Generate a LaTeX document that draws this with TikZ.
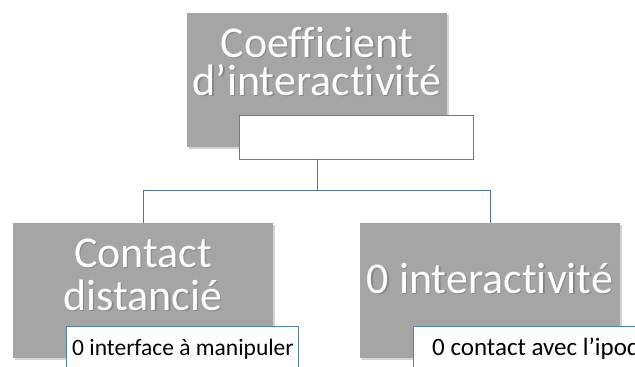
\documentclass[tikz,border=0pt]{standalone}
\usepackage{fontspec}
\setmainfont[Ligatures={NoCommon}]{Carlito}
\usetikzlibrary{shadows}
\definecolor{graybox}{HTML}{A5A5A5}
\definecolor{bluebox}{HTML}{4F81BD}
\definecolor{blueline}{HTML}{4A74AD}
\tikzset{
  titlebox/.style={fill=graybox, draw=none, drop shadow={shadow xshift=1.5pt, shadow yshift=-1.5pt, opacity=0.35}},
  subbox/.style={fill=white, draw=bluebox, line width=0.8pt},
  bigtext/.style={text=white, align=center, anchor=base, inner sep=0pt},
  bigshadow/.style={bigtext, text=black, opacity=0.18},
  smalltext/.style={text=black, font=\fontsize{23.5}{26}\selectfont, anchor=base west, inner sep=0pt},
  conn/.style={draw=blueline, line width=0.9pt}
}
\begin{document}
\begin{tikzpicture}[x=1pt,y=-1pt]
\useasboundingbox (0,0) rectangle (635,367);
\clip (0,0) rectangle (635,367);
% top
\path[titlebox] (187,13) rectangle (447,147);
\node[bigshadow, font=\fontsize{44}{38}\selectfont] at (318.3,96.3) {Coefficient\\d’interactivité};
\node[bigtext, font=\fontsize{44}{38}\selectfont] (top) at (317,95) {Coefficient\\d’interactivité};
\path[subbox] (239,115) rectangle (473,159);
\coordinate (topb) at (317,159);
% left
\path[titlebox] (13,223) rectangle (273,358);
\node[bigshadow, font=\fontsize{44}{43}\selectfont] at (144.3,311.3) {Contact\\distancié};
\node[bigtext, font=\fontsize{44}{43}\selectfont] (left) at (143,310) {Contact\\distancié};
\path[subbox] (66,326) rectangle (298,375);
\node[smalltext] (lt) at (72,355) {0 interface à manipuler};
% right
\path[titlebox] (360,223) rectangle (620,358);
\node[bigshadow, font=\fontsize{44}{44}\selectfont] at (491.3,294.3) {0 interactivité};
\node[bigtext, font=\fontsize{44}{44}\selectfont] (right) at (490,293) {0 interactivité};
\path[subbox] (413,326) rectangle (660,375);
\node[smalltext, font=\fontsize{25}{27}\selectfont] (rt) at (432,355) {0 contact avec l’ipod};
% connectors
\coordinate (lt0) at (143,223);
\coordinate (rt0) at (490,223);
\coordinate (mid) at (317,190);
\draw[conn] (topb) -- (mid) -| (lt0);
\draw[conn] (mid) -| (rt0);
\end{tikzpicture}
\end{document}
